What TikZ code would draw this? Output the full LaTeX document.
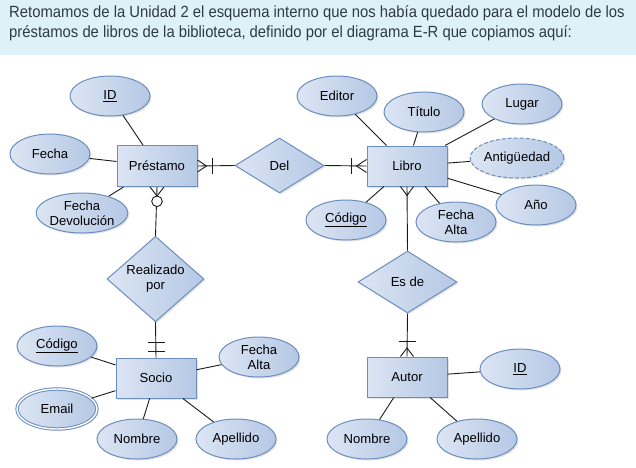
\documentclass[tikz,border=0pt]{standalone}
\usepackage{fontspec}
\setmainfont{Liberation Sans}
\usetikzlibrary{shapes.geometric,shadows,calc}
\definecolor{band}{HTML}{DFF1F8}
\definecolor{hdrtext}{HTML}{2E3A44}
\definecolor{shpL}{HTML}{DCE5F3}
\definecolor{shpR}{HTML}{B5C8E5}
\definecolor{shpB}{HTML}{6C8EBF}
\definecolor{connc}{HTML}{1A1A1A}
\begin{document}
\begin{tikzpicture}[x=1pt,y=-1pt,
  base/.style={draw=shpB, line width=1pt, left color=shpL, right color=shpR,
    font=\fontsize{13.1}{15}\selectfont, align=center, text=black, inner sep=0pt,
    drop shadow={shadow xshift=1.5pt, shadow yshift=-1.5pt, opacity=0.22}},
  entity/.style={base, rectangle, minimum width=80pt, minimum height=40pt},
  attr/.style={base, ellipse, minimum width=80pt, minimum height=40pt},
  rel/.style={base, diamond},
  conn/.style={draw=connc, line width=0.9pt},
  hdr/.style={anchor=base west, inner sep=0pt, text=hdrtext, font=\fontsize{16.2}{20}\selectfont}
]
\useasboundingbox (0,0) rectangle (636,467);
\fill[band] (0,0) rectangle (636,54.5);
\node[hdr] (h1) at (9,17) {\scalebox{0.915}[1]{Retomamos de la Unidad 2 el esquema interno que nos había quedado para el modelo de los}};
\node[hdr] (h2) at (9,37.5) {\scalebox{0.915}[1]{préstamos de libros de la biblioteca, definido por el diagrama E-R que copiamos aquí:}};

% entities
\node[entity, minimum height=41pt] (prest) at (157,166) {Préstamo};
\node[entity] (libro) at (407,166) {Libro};
\node[entity] (socio) at (156,378) {Socio};
\node[entity] (autor) at (407,377) {Autor};

% relationships
\node[rel, minimum width=89pt, minimum height=55pt] (del) at (279.5,165.5) {Del};
\node[rel, minimum width=97pt, minimum height=72pt] (realiz) at (155.5,279) {Realizado\\por};
\node[rel, minimum width=99pt, minimum height=62pt] (esde) at (407.5,282) {Es de};

% attributes of Préstamo
\node[attr] (idP) at (110,96) {\underline{ID}};
\node[attr] (fechaP) at (50,154) {Fecha};
\node[attr] (fdev) at (82,213) {Fecha\\Devolución};

% attributes of Libro
\node[attr] (editor) at (337,96) {Editor};
\node[attr] (titulo) at (424,112) {Título};
\node[attr] (lugar) at (522,104) {Lugar};
\node[attr, dashed, dash pattern=on 4pt off 2pt] (antig) at (517,158) {Antigüedad};
\node[attr] (anio) at (536,205) {Año};
\node[attr] (faltaL) at (456,222) {Fecha\\Alta};
\node[attr] (codL) at (346,220) {\underline{Código}};

% attributes of Socio
\node[attr] (codS) at (57,346) {\underline{Código}};
\node[attr, double=white, double distance=1.4pt] (email) at (57,409) {Email};
\node[attr] (nomS) at (137,439) {Nombre};
\node[attr] (apeS) at (236,439) {Apellido};
\node[attr] (faltaS) at (259,357) {Fecha\\Alta};

% attributes of Autor
\node[attr] (idA) at (520,369) {\underline{ID}};
\node[attr] (nomA) at (367,439) {Nombre};
\node[attr] (apeA) at (477,439) {Apellido};

% attribute connectors
\draw[conn] (idP) -- (prest);
\draw[conn] (fechaP) -- (prest);
\draw[conn] (fdev) -- (prest);
\draw[conn] (editor) -- (libro);
\draw[conn] (titulo) -- (libro);
\draw[conn] (lugar) -- (libro);
\draw[conn] (antig) -- (libro);
\draw[conn] (anio) -- (libro);
\draw[conn] (faltaL) -- (libro);
\draw[conn] (codL) -- (libro);
\draw[conn] (codS) -- (socio);
\draw[conn] (email) -- (socio);
\draw[conn] (nomS) -- (socio);
\draw[conn] (apeS) -- (socio);
\draw[conn] (faltaS) -- (socio);
\draw[conn] (idA) -- (autor);
\draw[conn] (nomA) -- (autor);
\draw[conn] (apeA) -- (autor);

% Préstamo -- Del (one-or-many at Préstamo)
\draw[conn] (prest.east) -- (del.west);
\draw[conn] ($(prest.east)+(0,-6)$) -- ($(prest.east)+(9,0)$) -- ($(prest.east)+(0,6)$);
\draw[conn] ($(prest.east)+(15,-8)$) -- ($(prest.east)+(15,8)$);

% Del -- Libro (one-or-many at Libro)
\draw[conn] (del.east) -- (libro.west);
\draw[conn] ($(libro.west)+(0,-6.5)$) -- ($(libro.west)+(-10,0)$) -- ($(libro.west)+(0,6.5)$);
\draw[conn] ($(libro.west)+(-15,-8)$) -- ($(libro.west)+(-15,8)$);

% Préstamo -- Realizado por (zero-or-many at Préstamo)
\draw[conn] (prest.south) -- (realiz.north);
\draw[conn] ($(prest.south)+(-7,0)$) -- ($(prest.south)+(0,9)$) -- ($(prest.south)+(7,0)$);
\draw[conn, fill=white] ($(prest.south)+(0,14.3)$) circle (5.3);

% Realizado por -- Socio (exactly one at Socio)
\draw[conn] (realiz.south) -- (socio.north);
\draw[conn] ($(socio.north)+(-8.5,-15)$) -- ($(socio.north)+(8.5,-15)$);
\draw[conn] ($(socio.north)+(-8.5,-6)$) -- ($(socio.north)+(8.5,-6)$);

% Libro -- Es de (many at Libro)
\draw[conn] (libro.south) -- (esde.north);
\draw[conn] ($(libro.south)+(-6.5,0)$) -- ($(libro.south)+(0,9)$) -- ($(libro.south)+(6.5,0)$);

% Es de -- Autor (one-or-many at Autor)
\draw[conn] (esde.south) -- (autor.north);
\draw[conn] ($(autor.north)+(-6.5,0)$) -- ($(autor.north)+(0,-8.5)$) -- ($(autor.north)+(6.5,0)$);
\draw[conn] ($(autor.north)+(-8.5,-15)$) -- ($(autor.north)+(8.5,-15)$);
\end{tikzpicture}
\end{document}
